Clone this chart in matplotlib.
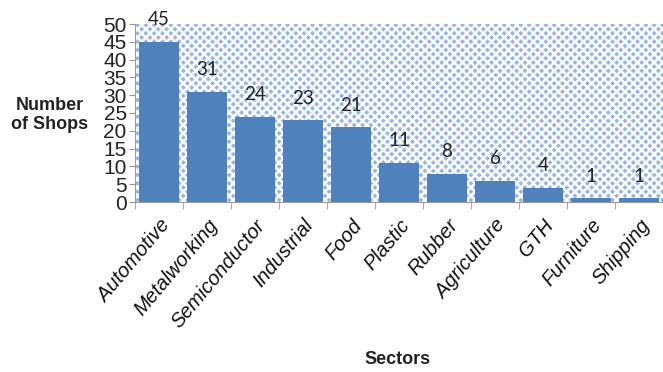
import numpy as np
import matplotlib.pyplot as plt
from matplotlib.patches import Rectangle

sectors = ['Automotive', 'Metalworking', 'Semiconductor', 'Industrial', 'Food',
           'Plastic', 'Rubber', 'Agriculture', 'GTH', 'Furniture', 'Shipping']
shops = [45, 31, 24, 23, 21, 11, 8, 6, 4, 1, 1]
yticks = list(range(0, 55, 5))

plt.rcParams['hatch.linewidth'] = 1.7
plt.rcParams['hatch.color'] = 'white'

fig = plt.figure(figsize=(6.63, 3.72), dpi=100)
ax = fig.add_axes([135/663, 1 - 202/372, 528/663, 178/372])

x = np.arange(len(sectors))
ax.set_xlim(-0.5, len(sectors) - 0.5)
ax.set_ylim(0, 50)

# patterned plot background
ax.add_patch(Rectangle((0, 0), 1, 1, transform=ax.transAxes, facecolor='#9ab7e2',
                       edgecolor='white', hatch='xxxx', lw=0, zorder=0))

ax.bar(x, shops, width=0.84, color='#4f81bd', zorder=2)
for xi, v in zip(x, shops):
    ax.text(xi, v + 3.8, str(v), ha='center', va='bottom', fontsize=13.5,
            family='Lato', color='#222222', zorder=3)

ax.set_yticks(yticks)
ax.set_yticklabels([str(t) for t in yticks], family='Liberation Sans', fontsize=15,
                   color='#222222')
ax.set_xticks(x)
ax.set_xticklabels(sectors, rotation=50, ha='right', rotation_mode='anchor',
                   fontstyle='italic', fontsize=14.5, family='Liberation Sans', color='#111111')
ax.set_xticks(np.arange(-0.5, len(sectors), 1), minor=True)
ax.tick_params(axis='x', which='major', length=0, pad=10)
ax.tick_params(axis='x', which='minor', length=5, color='#999999')
ax.tick_params(axis='y', length=4, color='#999999', pad=2)

for s in ['top', 'right']:
    ax.spines[s].set_visible(False)
for s in ['left', 'bottom']:
    ax.spines[s].set_color('#999999')
    ax.spines[s].set_zorder(4)

fig.text(50/663, 1 - 115/372, 'Number\nof Shops', ha='center', va='center',
         fontsize=13, fontweight='bold', family='Liberation Sans', color='#222222')
fig.text(398/663, 1 - 359/372, 'Sectors', ha='center', va='center',
         fontsize=13, fontweight='bold', family='Liberation Sans', color='#222222')

fig.savefig('out.png', dpi=100)
